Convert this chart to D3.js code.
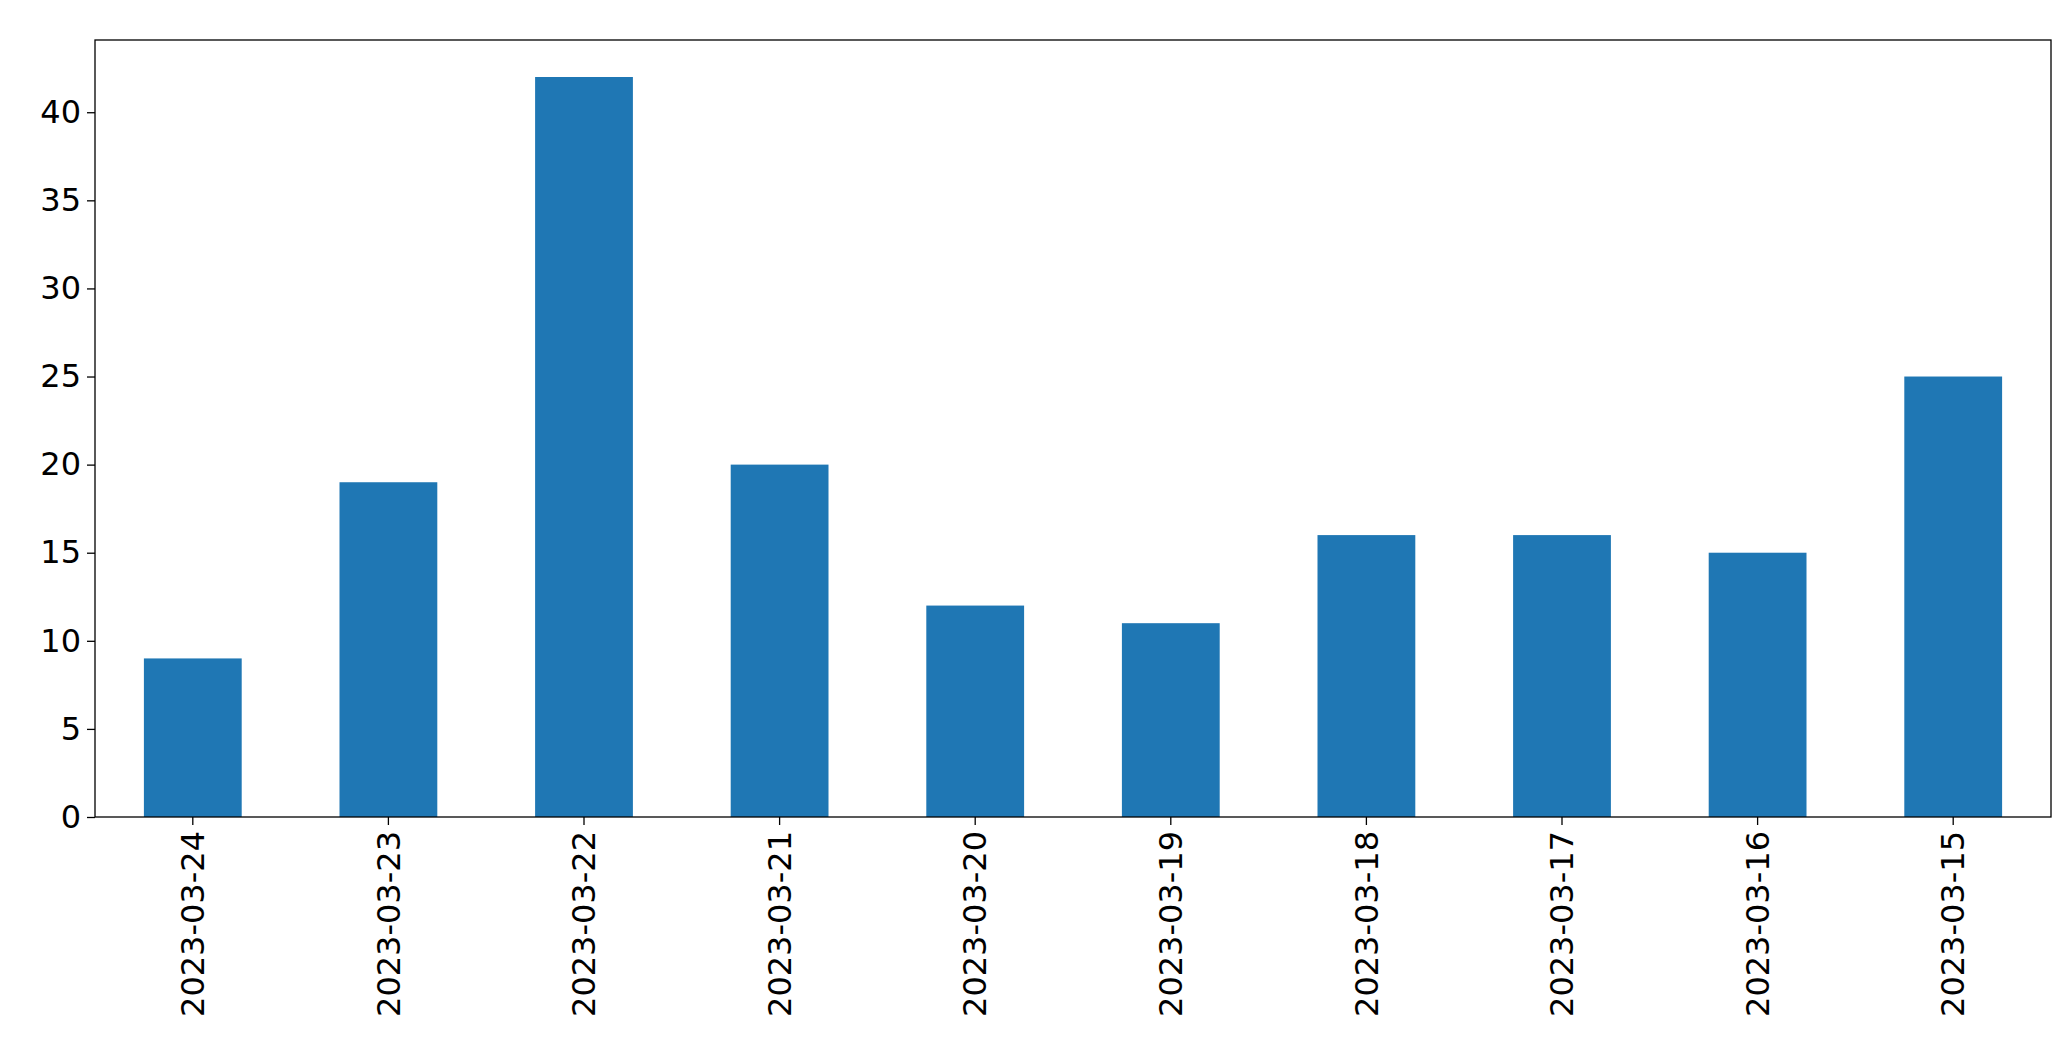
<!DOCTYPE html>
<html>
<head>
<meta charset="utf-8">
<script src="https://cdn.jsdelivr.net/npm/d3@7"></script>
<style>
  body { margin: 0; background: #fff; }
  text { font-family: "DejaVu Sans", sans-serif; }
</style>
</head>
<body>
<div id="chart"></div>
<script>
const dates = ["2023-03-24", "2023-03-23", "2023-03-22", "2023-03-21", "2023-03-20",
               "2023-03-19", "2023-03-18", "2023-03-17", "2023-03-16", "2023-03-15"];
const counts = [9, 19, 42, 20, 12, 11, 16, 16, 15, 25];
const yTicks = [0, 5, 10, 15, 20, 25, 30, 35, 40];

const W = 2071, H = 1061;
const margin = {top: 40, right: 20, bottom: 244, left: 95};
const width = W - margin.left - margin.right;
const height = H - margin.top - margin.bottom;

const svg = d3.select("#chart").append("svg")
  .attr("width", W).attr("height", H);
const g = svg.append("g")
  .attr("transform", "translate(" + margin.left + "," + margin.top + ")");

// band with 0.5 padding, like pandas bar plot width=0.5
const x = d3.scaleBand().domain(dates).range([0, width]).paddingInner(0.5).paddingOuter(0.25);
const y = d3.scaleLinear().domain([0, 42 * 1.05]).range([height, 0]);

g.selectAll("rect.bar").data(dates).join("rect")
  .attr("class", "bar")
  .attr("x", d => x(d))
  .attr("width", x.bandwidth())
  .attr("y", (d, i) => y(counts[i]))
  .attr("height", (d, i) => height - y(counts[i]))
  .attr("fill", "#1f77b4");

const yAxis = g.append("g")
  .call(d3.axisLeft(y).tickValues(yTicks).tickSize(8).tickPadding(6));
yAxis.selectAll("text").style("font-size", "32px").attr("fill", "#000");

const xAxis = g.append("g").attr("transform", "translate(0," + height + ")")
  .call(d3.axisBottom(x).tickSize(8).tickPadding(6));
xAxis.selectAll("text")
  .style("font-size", "32px").attr("fill", "#000")
  .attr("transform", "rotate(-90)")
  .attr("text-anchor", "end")
  .attr("x", -14).attr("y", 0).attr("dy", "0.35em");

[yAxis, xAxis].forEach(a => {
  a.select(".domain").remove();
  a.selectAll("line").attr("stroke", "#000").attr("stroke-width", 1.3);
});

g.append("rect").attr("width", width).attr("height", height)
  .attr("fill", "none").attr("stroke", "#000").attr("stroke-width", 1.3);
</script>
</body>
</html>
